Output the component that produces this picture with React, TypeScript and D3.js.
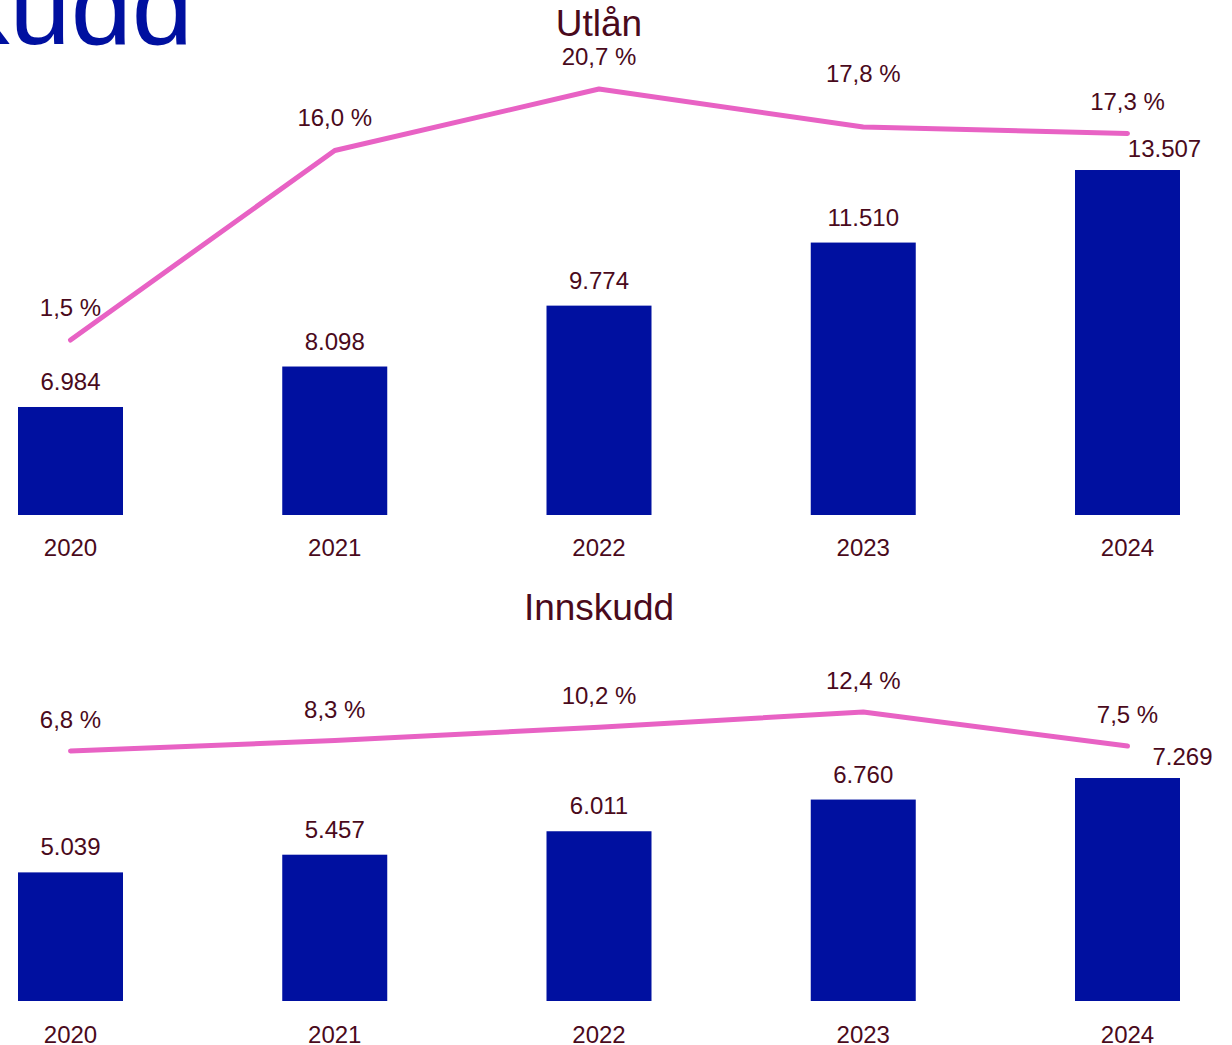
import React from "react";
import * as d3 from "d3";

const years = ["2020", "2021", "2022", "2023", "2024"];
const utlanValues = [6984, 8098, 9774, 11510, 13507];
const utlanGrowth = [1.5, 16.0, 20.7, 17.8, 17.3];
const innskuddValues = [5039, 5457, 6011, 6760, 7269];
const innskuddGrowth = [6.8, 8.3, 10.2, 12.4, 7.5];

const BAR = "#0010A0";
const LINE = "#E862C4";
const TEXT = "#4A0A1C";
const FONT = "'Liberation Sans', Arial, sans-serif";

const fmtInt = (v: number) => d3.format(",")(v).replace(/,/g, ".");
const fmtPct = (v: number) => v.toFixed(1).replace(".", ",") + " %";

type PanelProps = {
  title: string;
  titleY: number;
  values: number[];
  growth: number[];
  baseline: number;
  valueDomain: [number, number];
  valueTopY: number;
  pctDomain: [number, number];
  pctRange: [number, number];
  yearLabelY: number;
  pctLabelOffsets: number[];
  lastLabelShift: [number, number];
};

function Panel(p: PanelProps) {
  const x = d3.scalePoint<string>().domain(years).range([70.5, 1127.5]);
  const y = d3.scaleLinear().domain(p.valueDomain).range([p.baseline, p.valueTopY]);
  const yp = d3.scaleLinear().domain(p.pctDomain).range(p.pctRange);
  const bw = 105;
  const line = d3
    .line<number>()
    .x((_, i) => x(years[i])!)
    .y((d) => yp(d));
  return (
    <g>
      <text x={599} y={p.titleY} textAnchor="middle" fontSize={37} fill={TEXT} fontFamily={FONT}>
        {p.title}
      </text>
      {p.values.map((v, i) => (
        <rect
          key={"b" + i}
          x={x(years[i])! - bw / 2}
          y={y(v)}
          width={bw}
          height={p.baseline - y(v)}
          fill={BAR}
        />
      ))}
      {p.values.map((v, i) => {
        const last = i === p.values.length - 1;
        return (
          <text
            key={"v" + i}
            x={x(years[i])! + (last ? p.lastLabelShift[0] : 0)}
            y={y(v) - 17 + (last ? p.lastLabelShift[1] : 0)}
            textAnchor="middle"
            fontSize={24}
            fill={TEXT}
            fontFamily={FONT}
          >
            {fmtInt(v)}
          </text>
        );
      })}
      <path d={line(p.growth)!} fill="none" stroke={LINE} strokeWidth={5} strokeLinecap="round" strokeLinejoin="round" />
      {p.growth.map((g, i) => (
        <text
          key={"g" + i}
          x={x(years[i])!}
          y={yp(g) - p.pctLabelOffsets[i]}
          textAnchor="middle"
          fontSize={24}
          fill={TEXT}
          fontFamily={FONT}
        >
          {fmtPct(g)}
        </text>
      ))}
      {years.map((yr) => (
        <text key={yr} x={x(yr)!} y={p.yearLabelY} textAnchor="middle" fontSize={24} fill={TEXT} fontFamily={FONT}>
          {yr}
        </text>
      ))}
    </g>
  );
}

export default function App() {
  return (
    <svg
      width={1232}
      height={1045}
      style={{ position: "absolute", left: 0, top: 0, background: "#fff" }}
    >
      <text x={193} y={44} textAnchor="end" fontSize={110} fill={BAR} fontFamily={FONT}>
        Utlån og innskudd
      </text>
      <Panel
        title="Utlån"
        titleY={36}
        values={utlanValues}
        growth={utlanGrowth}
        baseline={515}
        valueDomain={[4011, 18000]}
        valueTopY={515 - (18000 - 4011) * 0.03633}
        pctDomain={[0, 25]}
        pctRange={[359.6, 359.6 - 25 * 13.07]}
        yearLabelY={556}
        pctLabelOffsets={[24, 24, 24, 45, 23]}
        lastLabelShift={[37, 4]}
      />
      <Panel
        title="Innskudd"
        titleY={620}
        values={innskuddValues}
        growth={innskuddGrowth}
        baseline={1001}
        valueDomain={[2000, 12000]}
        valueTopY={1001 - 10000 * 0.04232}
        pctDomain={[0, 20]}
        pctRange={[798.3, 798.3 - 20 * 6.96]}
        yearLabelY={1043}
        pctLabelOffsets={[23, 23, 23, 23, 23]}
        lastLabelShift={[55, 4]}
      />
    </svg>
  );
}
